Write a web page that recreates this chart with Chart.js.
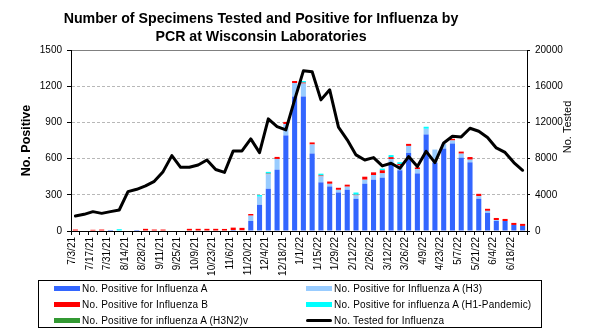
<!DOCTYPE html>
<html>
<head>
<meta charset="utf-8">
<script src="https://cdn.jsdelivr.net/npm/chart.js@4.4.1/dist/chart.umd.min.js"></script>
<style>
  body { margin: 0; background: #fff; }
  #wrap { position: relative; width: 590px; height: 333px; font-family: "Liberation Sans", Arial, sans-serif; color: #000; }
  #chart { position: absolute; left: 0; top: 0; }
  #title { position: absolute; left: 0; top: 10px; width: 522px; text-align: center; font-weight: bold; font-size: 14.2px; line-height: 17.6px; }
  #legend { position: absolute; left: 38px; top: 280px; width: 504px; height: 48px; box-sizing: border-box; border: 1px solid #000;
            display: grid; grid-template-columns: 252px auto; grid-auto-rows: 15.8px; padding: 0 0 0 15px; font-size: 10px; letter-spacing: 0.2px; }
  .item { display: flex; align-items: center; white-space: nowrap; }
  .swatch { display: inline-block; width: 26px; height: 5px; margin-right: 2px; }
  .swatch.line { height: 3px; border-radius: 2px; }
</style>
</head>
<body>
<div id="wrap">
  <canvas id="chart" width="590" height="333"></canvas>
  <div id="title">Number of Specimens Tested and Positive for Influenza by<br>PCR at Wisconsin Laboratories</div>
  <div id="legend"></div>
</div>
<script>
// Weekly report dates (week ending)
const weeks = [
  '7/3/21', '7/10/21', '7/17/21', '7/24/21', '7/31/21', '8/7/21', '8/14/21', '8/21/21', '8/28/21', '9/4/21',
  '9/11/21', '9/18/21', '9/25/21', '10/2/21', '10/9/21', '10/16/21', '10/23/21', '10/30/21', '11/6/21', '11/13/21',
  '11/20/21', '11/27/21', '12/4/21', '12/11/21', '12/18/21', '12/25/21', '1/1/22', '1/8/22', '1/15/22', '1/22/22',
  '1/29/22', '2/5/22', '2/12/22', '2/19/22', '2/26/22', '3/5/22', '3/12/22', '3/19/22', '3/26/22', '4/2/22',
  '4/9/22', '4/16/22', '4/23/22', '4/30/22', '5/7/22', '5/14/22', '5/21/22', '5/28/22', '6/4/22', '6/11/22',
  '6/18/22', '6/25/22'
];

// Positives by type (left axis)
const fluA = [
  0, 0, 0, 0, 8, 0, 0, 8, 0, 0,
  0, 0, 0, 0, 0, 0, 0, 0, 8, 0,
  83, 217, 350, 508, 792, 1115, 1115, 642, 403, 369,
  319, 342, 267, 392, 425, 442, 547, 503, 647, 477,
  800, 565, 683, 725, 608, 569, 267, 150, 83, 83,
  50, 42
];
const fluAH3 = [
  0, 0, 0, 0, 0, 0, 0, 0, 0, 0,
  0, 0, 0, 0, 0, 0, 0, 0, 0, 6,
  44, 67, 120, 89, 95, 111, 107, 75, 50, 22,
  22, 25, 28, 33, 39, 36, 50, 40, 58, 36,
  47, 110, 39, 25, 33, 22, 22, 17, 8, 0,
  0, 0
];
const fluB = [
  12, 0, 10, 12, 0, 0, 0, 0, 18, 12,
  12, 0, 0, 18, 18, 18, 18, 17, 20, 20,
  14, 0, 5, 17, 17, 17, 8, 17, 7, 19,
  17, 17, 5, 25, 22, 25, 15, 12, 17, 14,
  0, 0, 0, 14, 17, 22, 19, 17, 17, 17,
  17, 17
];
const fluAH1 = [
  0, 0, 0, 0, 0, 15, 0, 0, 0, 0,
  0, 0, 0, 0, 0, 0, 0, 0, 0, 0,
  0, 14, 15, 0, 0, 0, 13, 0, 15, 0,
  0, 0, 19, 0, 0, 14, 17, 15, 0, 0,
  17, 0, 0, 0, 0, 0, 0, 0, 0, 0,
  0, 0
];
const fluAH3N2v = new Array(weeks.length).fill(0);

// Specimens tested (right axis)
const tested = [
  1660, 1840, 2140, 1950, 2140, 2320, 4350, 4610, 4980, 5490,
  6560, 8330, 7040, 7040, 7300, 7850, 6800, 6470, 8850, 8850,
  10180, 8660, 12390, 11540, 11170, 14490, 17700, 17590, 14490, 15600,
  11470, 10070, 8410, 7850, 8110, 7190, 7480, 6930, 8220, 7120,
  8800, 7560, 9730, 10470, 10400, 11350, 11020, 10340, 9180, 8680,
  7560, 6710
];

const positiveTicks = [0, 300, 600, 900, 1200, 1500];
const testedTicks = [0, 4000, 8000, 12000, 16000, 20000];

Chart.defaults.font.family = '"Liberation Sans", Arial, sans-serif';
Chart.defaults.color = '#000';

function barSet(label, data, color) {
  return {
    type: 'bar', label, data,
    backgroundColor: color,
    borderWidth: 0,
    yAxisID: 'y',
    order: 1,
    barPercentage: 0.58,
    categoryPercentage: 1
  };
}

// Right axis title reads bottom-to-top, so draw it by hand
const testedTitle = {
  id: 'testedTitle',
  afterDraw(chart) {
    const c = chart.ctx;
    c.save();
    c.translate(568, chart.chartArea.top + 77);
    c.rotate(-Math.PI / 2);
    c.font = '11px "Liberation Sans", Arial, sans-serif';
    c.fillStyle = '#000';
    c.textAlign = 'center';
    c.textBaseline = 'middle';
    c.fillText('No. Tested', 0, 0);
    c.restore();
  }
};

const chart = new Chart(document.getElementById('chart'), {
  data: {
    labels: weeks,
    datasets: [
      barSet('No. Positive for Influenza A', fluA, '#3366ff'),
      barSet('No. Positive for Influenza A (H3)', fluAH3, '#99ccff'),
      barSet('No. Positive for Influenza B', fluB, '#ff0000'),
      barSet('No. Positive for influenza A (H1-Pandemic)', fluAH1, '#00ffff'),
      barSet('No. Positive for influenza A (H3N2)v', fluAH3N2v, '#339933'),
      {
        type: 'line',
        label: 'No. Tested for Influenza',
        data: tested,
        borderColor: '#000',
        backgroundColor: '#000',
        borderWidth: 3,
        borderJoinStyle: 'round',
        borderCapStyle: 'round',
        pointRadius: 0,
        tension: 0,
        yAxisID: 'y1',
        order: 0
      }
    ]
  },
  options: {
    responsive: false,
    animation: false,
    layout: { padding: { top: 50, left: 0, right: 0, bottom: 0 } },
    plugins: {
      legend: { display: false },
      title: { display: false },
      tooltip: { enabled: false }
    },
    scales: {
      x: {
        stacked: true,
        grid: { drawOnChartArea: false, drawTicks: true, tickLength: 4, tickColor: '#000', offset: true },
        border: { color: '#000' },
        ticks: {
          autoSkip: false,
          maxRotation: 90,
          minRotation: 90,
          padding: 2,
          labelOffset: -3,
          font: { size: 10 },
          callback: (v, i) => (i % 2 === 0 ? weeks[i] : '')
        },
        afterFit: s => { s.height = 102; }
      },
      y: {
        position: 'left',
        stacked: true,
        min: positiveTicks[0],
        max: positiveTicks[positiveTicks.length - 1],
        afterBuildTicks: s => { s.ticks = positiveTicks.map(v => ({ value: v })); },
        grid: {
          color: ctx => (ctx.tick && ctx.tick.value === 1500 ? '#808080' : '#b8b8b8'),
          tickColor: '#000',
          tickLength: 4
        },
        border: {
          color: '#000',
          dash: ctx => (ctx.tick && ctx.tick.value === 1500 ? [] : [3, 2])
        },
        ticks: { padding: 5, font: { size: 10 }, callback: v => String(v) },
        title: {
          display: true,
          text: 'No. Positive',
          font: { size: 12.5, weight: 'bold' },
          padding: { top: 19, bottom: 0 }
        },
        afterFit: s => { s.width = 71; }
      },
      y1: {
        position: 'right',
        min: testedTicks[0],
        max: testedTicks[testedTicks.length - 1],
        afterBuildTicks: s => { s.ticks = testedTicks.map(v => ({ value: v })); },
        grid: { drawOnChartArea: false, tickColor: '#000', tickLength: 3 },
        border: { color: '#000' },
        ticks: { padding: 5, font: { size: 10 }, callback: v => String(v) },
        afterFit: s => { s.width = 63; }
      }
    }
  },
  plugins: [testedTitle]
});

// Two-column legend box under the plot
const legendEl = document.getElementById('legend');
chart.data.datasets.forEach(ds => {
  const item = document.createElement('div');
  item.className = 'item';
  const sw = document.createElement('span');
  const isLine = ds.type === 'line';
  sw.className = isLine ? 'swatch line' : 'swatch';
  sw.style.background = isLine ? ds.borderColor : ds.backgroundColor;
  item.appendChild(sw);
  item.appendChild(document.createTextNode(ds.label));
  legendEl.appendChild(item);
});
</script>
</body>
</html>
